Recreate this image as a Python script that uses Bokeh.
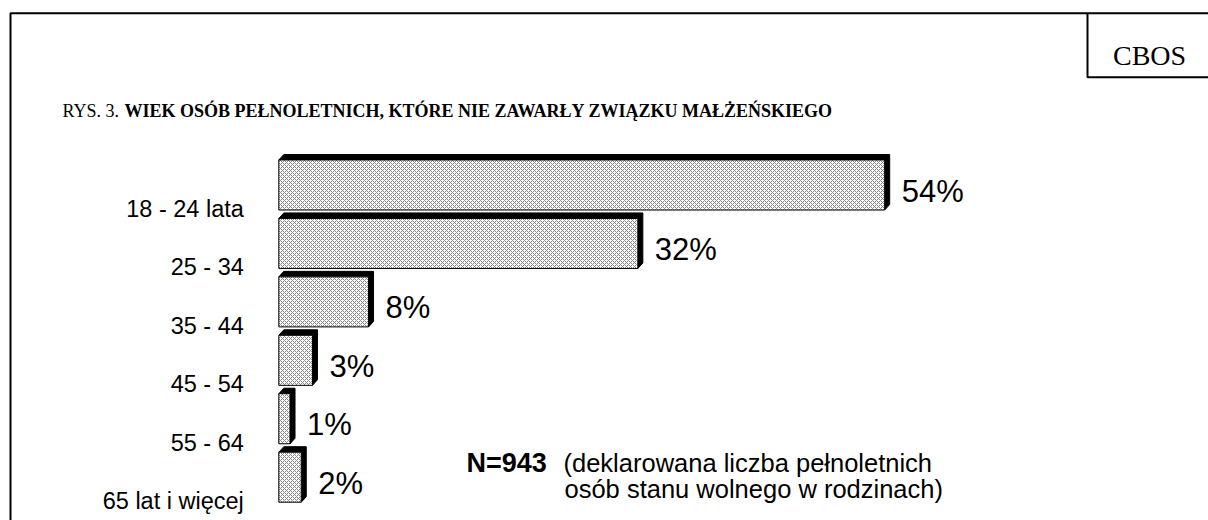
from bokeh.plotting import figure
from bokeh.models import Range1d, ColumnDataSource
from bokeh.core.properties import value
from bokeh.embed import file_html
from bokeh.resources import INLINE

# ---- data ----
categories = ["18 - 24 lata", "25 - 34", "35 - 44", "45 - 54", "55 - 64", "65 lat i więcej"]
values = [54, 32, 8, 3, 1, 2]
value_labels = ["54%", "32%", "8%", "3%", "1%", "2%"]
title_prefix = "RYS. 3. "
title_main = "WIEK OSÓB PEŁNOLETNICH, KTÓRE NIE ZAWARŁY ZWIĄZKU MAŁŻEŃSKIEGO"
source_label = "CBOS"
n_label = "N=943"
note_lines = ["(deklarowana liczba pełnoletnich", "osób stanu wolnego w rodzinach)"]

# ---- layout (page pixels) ----
W, H = 1208, 520
X0 = 278.3          # pixel position of 0 %
PX_PER_PCT = 11.22
Y0 = 184.5          # pixel centre of first bar
PITCH = 58.44
BAR_H = 0.856       # in slot units
DX = 5.0 / PX_PER_PCT
DY = 5.5 / PITCH

p = figure(width=W, height=H, output_backend="svg", toolbar_location=None,
           x_range=Range1d(-X0 / PX_PER_PCT, (W - X0) / PX_PER_PCT),
           y_range=Range1d((H - Y0) / PITCH, -Y0 / PITCH),
           min_border=0, min_border_left=0, min_border_right=0,
           min_border_top=0, min_border_bottom=0)
p.extra_x_ranges = {"px": Range1d(0, W)}
p.extra_y_ranges = {"px": Range1d(H, 0)}
p.xaxis.visible = False
p.yaxis.visible = False
p.grid.visible = False
p.outline_line_color = None
p.background_fill_color = "white"
p.border_fill_color = "white"

idx = list(range(len(categories)))
tops = [i - BAR_H / 2 for i in idx]
bots = [i + BAR_H / 2 for i in idx]

# 3D extrusion (black)
xs, ys = [], []
for i, v in zip(idx, values):
    t, b = tops[i], bots[i]
    xs.append([0, DX, v + DX, v + DX, v, v])
    ys.append([t, t - DY, t - DY, b - DY, b, t])
p.patches(xs, ys, fill_color="black", line_color="black", line_width=1)

# bar faces
src = ColumnDataSource(dict(y=idx, right=values, top=tops, bottom=bots,
                            cat=categories, lab=value_labels))
p.quad(left=0, right="right", top="top", bottom="bottom", source=src,
       fill_color="white", line_color="black", line_width=1,
       hatch_pattern="diagonal_cross", hatch_color="#858585",
       hatch_scale=4, hatch_weight=1.0)

# category labels
p.text(x=0, y="y", text="cat", source=src, x_offset=-35, y_offset=24,
       text_align="right", text_baseline="alphabetic",
       text_font=value("Liberation Sans"), text_font_size="23.5px", text_color="black")

# value labels
p.text(x="right", y="y", text="lab", source=src, x_offset=17, y_offset=6,
       text_align="left", text_baseline="alphabetic",
       text_font=value("Liberation Sans"), text_font_size="31px", text_color="black")

# frame lines
p.multi_line(xs=[[10, 10, W + 20], [1087, 1087, W + 20]],
             ys=[[H + 20, 12.7, 12.7], [12.7, 76.7, 76.7]],
             line_color="black", line_width=2,
             x_range_name="px", y_range_name="px")

# CBOS
p.text(x=[1112.5], y=[55], text=[source_label], text_align="left",
       text_baseline="alphabetic", text_font=value("Liberation Serif"),
       text_font_size="28px", x_range_name="px", y_range_name="px")

# title
p.text(x=[62], y=[110], text=[title_prefix], text_align="left",
       text_baseline="alphabetic", text_font=value("Liberation Serif"),
       text_font_size="18px", x_range_name="px", y_range_name="px")
p.text(x=[124], y=[110], text=[title_main], text_align="left",
       text_baseline="alphabetic", text_font=value("Liberation Serif"),
       text_font_size="18px", text_font_style="bold",
       x_range_name="px", y_range_name="px")

# N note
p.text(x=[466], y=[462], text=[n_label], text_align="left",
       text_baseline="alphabetic", text_font=value("Liberation Sans"),
       text_font_size="27px", text_font_style="bold",
       x_range_name="px", y_range_name="px")
p.text(x=[563, 564], y=[462, 488], text=note_lines, text_align="left",
       text_baseline="alphabetic", text_font=value("Liberation Sans"),
       text_font_size="25.5px", x_range_name="px", y_range_name="px")

open("out.html", "w").write(file_html(p, INLINE))
